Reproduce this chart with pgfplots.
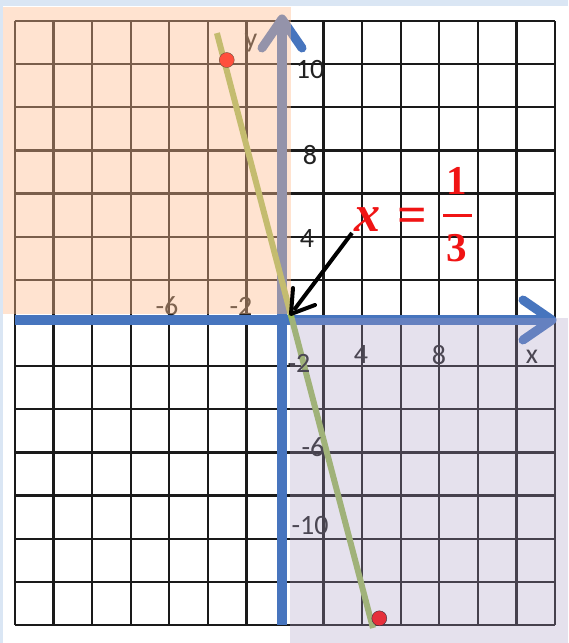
\documentclass[border=0pt]{standalone}
\usepackage[no-math]{fontspec}
\setmainfont{Carlito}
\newfontfamily\rserif{Liberation Serif}
\usepackage{pgfplots}
\pgfplotsset{compat=1.18}
\definecolor{bgblue}{HTML}{DAE6F4}
\definecolor{axblue}{HTML}{4775BE}
\definecolor{olivel}{HTML}{9BBB59}
\definecolor{ovor}{HTML}{FFBE8F}
\definecolor{ovlav}{HTML}{AC9EC6}
\definecolor{dotred}{HTML}{FF0000}
\definecolor{gridc}{HTML}{1A1A1A}
\definecolor{labc}{HTML}{222222}
\definecolor{annred}{HTML}{F01414}
\begin{document}
\begin{tikzpicture}
\fill[bgblue] (-15pt,-18pt) rectangle (553pt,625pt);
\fill[white] (-12pt,-18pt) rectangle (553pt,619pt);
% grid
\foreach \i in {0,...,14}{
  \draw[line width=2.2pt, gridc] (\i*38.5714pt,0pt) -- (\i*38.5714pt,604pt);
  \draw[line width=2.2pt, gridc] (0pt,\i*43.1429pt) -- (540pt,\i*43.1429pt);
}
% axes
\draw[axblue, line width=10pt] (0pt,305pt) -- (534pt,305pt);
\draw[axblue, line width=9pt, line join=round, line cap=round]
  (508pt,325pt) -- (537pt,305pt) -- (508pt,285pt);
\draw[axblue, line width=10pt] (267pt,0pt) -- (267pt,603pt);
\draw[axblue, line width=9pt, line join=round, line cap=round]
  (247pt,577pt) -- (267pt,606pt) -- (287pt,577pt);
\begin{axis}[at={(0pt,0pt)}, anchor=south west, scale only axis,
  width=540pt, height=604pt,
  xmin=-14, xmax=14, ymin=-14, ymax=14,
  hide axis, clip=false]
\addplot[olivel, line width=6pt] coordinates {(-3.53,13.44) (4.56,-14.14)};
\addplot[only marks, mark=*, mark size=7.5pt, draw=none, fill=dotred] coordinates {(-3.02,12.19) (4.89,-13.69)};
\end{axis}
% tick labels
\begin{scope}[every node/.style={inner sep=0pt, text=labc, font=\fontsize{28}{30}\selectfont}]
\node at (152pt,319pt) {-6};
\node at (226pt,319pt) {-2};
\node at (346pt,270pt) {4};
\node at (424pt,270pt) {8};
\node at (517pt,268pt) {x};
\node at (236pt,582pt) {y};
\node at (295pt,555pt) {10};
\node at (295pt,470pt) {8};
\node at (292pt,386pt) {4};
\node at (284pt,262pt) {-2};
\node at (298pt,178pt) {-6};
\node at (295pt,99pt) {-10};
\end{scope}
% overlays
\fill[ovor, fill opacity=0.42] (-12pt,311pt) rectangle (276pt,618pt);
\fill[ovlav, fill opacity=0.3] (275pt,307pt) rectangle (553pt,-18pt);
% annotation
\draw[black, line width=4pt] (337pt,392pt) -- (279pt,315pt);
\draw[black, line width=4pt, line join=round, line cap=round]
  (300pt,320pt) -- (276pt,311pt) -- (278pt,337pt);
\node[inner sep=0pt, text=annred, font=\rserif\fontsize{52}{56}\selectfont\bfseries\itshape] at (352pt,405pt) {x};
\node[inner sep=0pt, anchor=base, text=annred, font=\rserif\fontsize{52}{56}\selectfont\bfseries] at (397pt,392pt) {=};
\node[inner sep=0pt, text=annred, font=\rserif\fontsize{41}{44}\selectfont\bfseries] at (442pt,444pt) {1};
\node[inner sep=0pt, text=annred, font=\rserif\fontsize{41}{44}\selectfont\bfseries] at (442pt,377pt) {3};
\draw[annred, line width=3pt] (428pt,409pt) -- (457pt,409pt);
\pgfresetboundingbox
\useasboundingbox (-15pt,-18pt) rectangle (553pt,625pt);
\end{tikzpicture}
\end{document}
